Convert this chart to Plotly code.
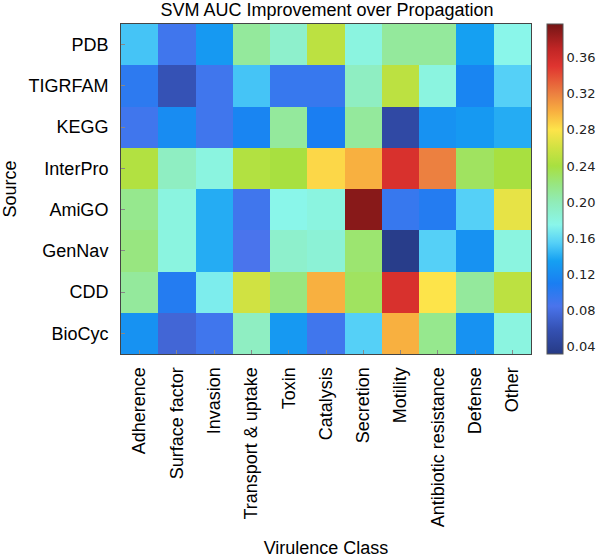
import plotly.graph_objects as go

classes = ["Adherence", "Surface factor", "Invasion", "Transport & uptake", "Toxin",
           "Catalysis", "Secretion", "Motility", "Antibiotic resistance", "Defense", "Other"]
sources = ["PDB", "TIGRFAM", "KEGG", "InterPro", "AmiGO", "GenNav", "CDD", "BioCyc"]

pdb      = [0.150, 0.090, 0.130, 0.210, 0.190, 0.250, 0.180, 0.210, 0.210, 0.135, 0.175]
tigrfam  = [0.100, 0.060, 0.090, 0.150, 0.095, 0.095, 0.195, 0.250, 0.180, 0.115, 0.155]
kegg     = [0.090, 0.120, 0.090, 0.115, 0.210, 0.110, 0.210, 0.050, 0.125, 0.130, 0.140]
interpro = [0.245, 0.195, 0.180, 0.245, 0.240, 0.285, 0.300, 0.355, 0.320, 0.230, 0.240]
amigo    = [0.215, 0.180, 0.140, 0.090, 0.175, 0.180, 0.390, 0.095, 0.105, 0.155, 0.270]
gennav   = [0.220, 0.180, 0.140, 0.085, 0.190, 0.185, 0.225, 0.035, 0.155, 0.125, 0.180]
cdd      = [0.210, 0.105, 0.170, 0.260, 0.220, 0.300, 0.230, 0.355, 0.280, 0.210, 0.250]
biocyc   = [0.125, 0.075, 0.090, 0.195, 0.130, 0.090, 0.155, 0.300, 0.215, 0.125, 0.180]

z = [pdb, tigrfam, kegg, interpro, amigo, gennav, cdd, biocyc]

colorbar_ticks = [0.04, 0.08, 0.12, 0.16, 0.20, 0.24, 0.28, 0.32, 0.36]

zmin, zmax = 0.032, 0.397
stops = [
    (0.032, "#263a85"),
    (0.060, "#3552b5"),
    (0.085, "#4a74ec"),
    (0.110, "#1a7ef2"),
    (0.135, "#15a0f2"),
    (0.155, "#55d0f7"),
    (0.175, "#8af6ea"),
    (0.200, "#90ecb8"),
    (0.220, "#98e680"),
    (0.240, "#a8e040"),
    (0.260, "#d0e242"),
    (0.280, "#fde44a"),
    (0.300, "#f8b040"),
    (0.320, "#ec8040"),
    (0.350, "#e03530"),
    (0.370, "#c02525"),
    (0.397, "#741515"),
]
colorscale = [[(v - zmin) / (zmax - zmin), c] for v, c in stops]

fig = go.Figure(go.Heatmap(
    z=z, x=classes, y=sources,
    zmin=zmin, zmax=zmax,
    colorscale=colorscale,
    colorbar=dict(
        x=1.039, xanchor="left", xpad=0, y=0.5, yanchor="middle", ypad=0,
        len=1.0, lenmode="fraction", thickness=16,
        tickvals=colorbar_ticks,
        ticktext=[f"{t:.2f}" for t in colorbar_ticks],
        tickfont=dict(family="DejaVu Sans", size=13, color="#222222"),
        outlinecolor="#555555", outlinewidth=1,
        ticks="", ticklen=3,
    ),
))

fig.update_layout(
    width=600, height=558,
    margin=dict(l=121, r=69, t=24, b=204, autoexpand=False),
    paper_bgcolor="white", plot_bgcolor="white",
    font=dict(family="Liberation Sans, Arial", size=18, color="black"),
    title=dict(text="SVM AUC Improvement over Propagation", x=0.545, xanchor="center",
               y=0.983, yanchor="middle", yref="container", font=dict(size=18)),
)
fig.update_xaxes(
    title=dict(text="Virulence Class", standoff=18, font=dict(size=18)),
    tickangle=-90, tickfont=dict(size=18), ticklabelstandoff=5,
    showline=True, linecolor="#444444", linewidth=1, mirror=True,
    ticks="inside", ticklen=4, tickcolor="#888888",
)
fig.update_yaxes(
    title=dict(text="Source", standoff=7, font=dict(size=18)),
    autorange="reversed", tickfont=dict(size=18), ticklabelstandoff=8,
    showline=True, linecolor="#444444", linewidth=1, mirror=True,
    ticks="inside", ticklen=4, tickcolor="#888888",
)

fig.write_html(
    "out.html",
    config={"displayModeBar": False},
    post_script="document.body.style.margin='0';document.body.style.overflow='hidden';",
)
